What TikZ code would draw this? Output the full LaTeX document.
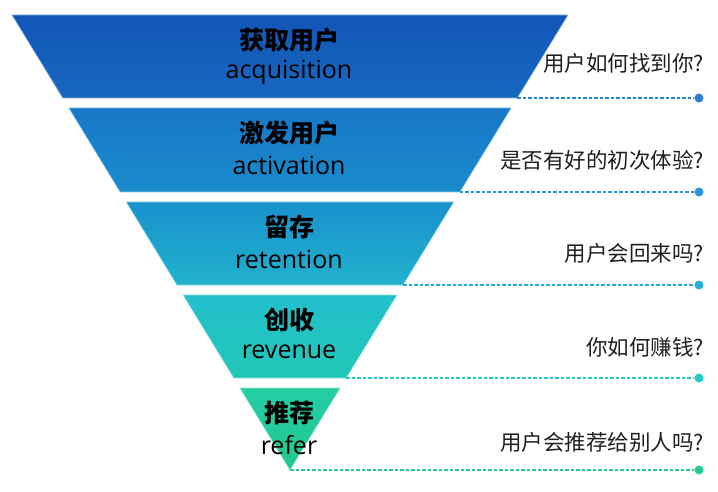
\documentclass[tikz,border=0pt]{standalone}
\usepackage{fontspec}
\setmainfont{Open Sans}
\newfontfamily\cjk{Noto Sans CJK SC}
\definecolor{top1}{HTML}{1255B7}
\definecolor{bot1}{HTML}{1868C0}
\definecolor{top2}{HTML}{1778C7}
\definecolor{bot2}{HTML}{1A8BCC}
\definecolor{top3}{HTML}{1A91CD}
\definecolor{bot3}{HTML}{20B2CD}
\definecolor{top4}{HTML}{22BFCD}
\definecolor{bot4}{HTML}{22C8B6}
\definecolor{top5}{HTML}{25CDA6}
\definecolor{bot5}{HTML}{22C88E}
\definecolor{line1}{HTML}{2A80D6}
\definecolor{line2}{HTML}{2A94D8}
\definecolor{line3}{HTML}{22B0D6}
\definecolor{line4}{HTML}{22CCC8}
\definecolor{line5}{HTML}{22CC92}

\begin{document}
\begin{tikzpicture}[x=1pt,y=-1pt,
    band/.style={top color=top#1, bottom color=bot#1, draw=white!50!bot#1, line width=0.6pt},
    zh/.style={font=\cjk\bfseries\fontsize{25}{25}\selectfont, text=black},
    en/.style={font=\fontsize{25}{25}\selectfont, text=black},
    ask/.style={font=\cjk\fontsize{21.5}{21.5}\selectfont, text=black!88, anchor=east, inner sep=0pt},
    guide/.style={dash pattern=on 3.5pt off 2pt, line width=1.4pt},
    enddot/.style={circle, fill, inner sep=0pt, minimum size=9pt}]
    \useasboundingbox (0,0) rectangle (718,492);
    \foreach \i/\t/\b/\zhtext/\entext/\asktext/\ay in {
        1/15/98/获取用户/acquisition/用户如何找到你?/63,
        2/108/192/激发用户/activation/是否有好的初次体验?/160,
        3/202/285/留存/retention/用户会回来吗?/253,
        4/295/378/创收/revenue/你如何赚钱?/347,
        5/388/470/推荐/refer/用户会推荐给别人吗?/442}
    {
        \pgfmathsetmacro\wt{(470-\t)*0.611}
        \pgfmathsetmacro\wb{(470-\b)*0.611}
        \coordinate (tl\i) at (290-\wt,\t);
        \coordinate (tr\i) at (290+\wt,\t);
        \coordinate (br\i) at (290+\wb,\b);
        \coordinate (bl\i) at (290-\wb,\b);
        \path[band=\i] (tl\i) -- (tr\i) -- (br\i) -- (bl\i) -- cycle;
        \node[zh] (zh\i) at (289,\t+25) {\zhtext};
        \node[en] (en\i) at (289,\t+57) {\entext};
        \node[ask] (ask\i) at (704,\ay) {\asktext};
        \node[enddot, fill=line\i] (end\i) at (699,\b) {};
        \draw[guide, draw=line\i] (br\i) -- (end\i);
    }
\end{tikzpicture}
\end{document}
